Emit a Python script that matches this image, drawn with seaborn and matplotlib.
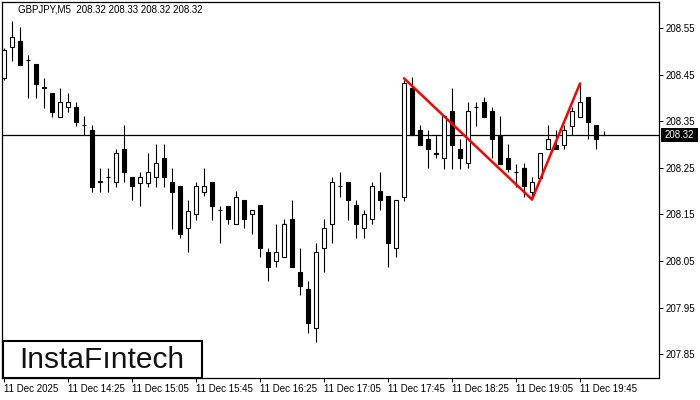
import matplotlib
matplotlib.use("Agg")
import matplotlib.pyplot as plt
from matplotlib.patches import Rectangle
import seaborn as sns
import numpy as np
import pandas as pd

# GBPJPY M5 candles
opens = [208.443, 208.510, 208.522, 208.482, 208.473, 208.423, 208.410, 208.360, 208.380, 208.380,
         208.342, 208.331, 208.221, 208.231, 208.219, 208.290, 208.230, 208.218, 208.218, 208.230,
         208.270, 208.219, 208.210, 208.120, 208.150, 208.199, 208.219, 208.160, 208.169, 208.129,
         208.180, 208.150, 208.170, 208.069, 208.049, 208.058, 208.140, 208.027, 207.989, 207.907,
         208.079, 208.129, 208.211, 208.219, 208.170, 208.120, 208.140, 208.200, 208.190, 208.079,
         208.188, 208.421, 208.331, 208.312, 208.281, 208.270, 208.372, 208.290, 208.260, 208.381,
         208.391, 208.372, 208.319, 208.270, 208.241, 208.249, 208.199, 208.229, 208.290, 208.299,
         208.300, 208.340, 208.360, 208.401, 208.342, 208.320]
highs = [208.507, 208.564, 208.552, 208.492, 208.473, 208.442, 208.410, 208.422, 208.410, 208.391,
         208.361, 208.342, 208.249, 208.249, 208.290, 208.342, 208.230, 208.240, 208.281, 208.301,
         208.301, 208.249, 208.210, 208.181, 208.219, 208.249, 208.219, 208.169, 208.169, 208.200,
         208.180, 208.159, 208.170, 208.079, 208.129, 208.140, 208.181, 208.079, 208.008, 208.088,
         208.140, 208.230, 208.240, 208.219, 208.181, 208.159, 208.220, 208.242, 208.190, 208.181,
         208.438, 208.444, 208.342, 208.331, 208.320, 208.361, 208.421, 208.312, 208.391, 208.391,
         208.401, 208.380, 208.361, 208.301, 208.258, 208.260, 208.230, 208.281, 208.342, 208.331,
         208.342, 208.381, 208.431, 208.401, 208.342, 208.330]
lows = [208.438, 208.480, 208.471, 208.400, 208.400, 208.379, 208.360, 208.360, 208.370, 208.340,
        208.320, 208.199, 208.199, 208.199, 208.209, 208.219, 208.180, 208.169, 208.209, 208.209,
        208.209, 208.119, 208.099, 208.069, 208.139, 208.190, 208.139, 208.088, 208.129, 208.129,
        208.120, 208.109, 208.058, 208.007, 208.038, 208.058, 208.038, 207.977, 207.896, 207.877,
        208.027, 208.088, 208.188, 208.139, 208.099, 208.099, 208.129, 208.159, 208.038, 208.058,
        208.179, 208.320, 208.300, 208.249, 208.270, 208.247, 208.247, 208.247, 208.249, 208.340,
        208.360, 208.270, 208.258, 208.240, 208.209, 208.188, 208.181, 208.229, 208.290, 208.290,
        208.290, 208.320, 208.360, 208.311, 208.290, 208.320]
closes = [208.503, 208.531, 208.471, 208.481, 208.430, 208.422, 208.370, 208.391, 208.391, 208.349,
          208.341, 208.209, 208.220, 208.230, 208.281, 208.240, 208.210, 208.230, 208.240, 208.260,
          208.230, 208.199, 208.109, 208.158, 208.210, 208.210, 208.169, 208.159, 208.140, 208.188,
          208.140, 208.159, 208.079, 208.038, 208.069, 208.129, 208.038, 207.997, 207.918, 208.069,
          208.120, 208.219, 208.210, 208.180, 208.129, 208.150, 208.210, 208.180, 208.088, 208.181,
          208.431, 208.320, 208.300, 208.290, 208.280, 208.361, 208.300, 208.270, 208.372, 208.380,
          208.360, 208.311, 208.258, 208.247, 208.240, 208.210, 208.219, 208.281, 208.311, 208.290,
          208.331, 208.372, 208.391, 208.349, 208.311, 208.320]

# double top pattern line (candle index, price)
pattern_idx = [50, 66, 72]
pattern_price = [208.442, 208.182, 208.431]

last_price = 208.32
price_ticks = [207.85, 207.95, 208.05, 208.15, 208.25, 208.35, 208.45, 208.55]
time_tick_idx = [0, 8, 16, 24, 32, 40, 48, 56, 64, 72]
time_labels = ["11 Dec 2025", "11 Dec 14:25", "11 Dec 15:05", "11 Dec 15:45", "11 Dec 16:25",
               "11 Dec 17:05", "11 Dec 17:45", "11 Dec 18:25", "11 Dec 19:05", "11 Dec 19:45"]


def main():
    sns.set_style("white")
    plt.rcParams['font.family'] = ['Liberation Sans', 'DejaVu Sans']

    df = pd.DataFrame({'open': opens, 'high': highs, 'low': lows, 'close': closes})
    df['idx'] = np.arange(len(df))
    df['bottom'] = df[['open', 'close']].min(axis=1)
    df['height'] = (df['close'] - df['open']).abs().clip(lower=0.0004)
    up = df['close'] >= df['open']

    fig = plt.figure(figsize=(7, 4), dpi=100)
    ax = fig.add_axes([2 / 700, 22 / 400, 657 / 700, 376 / 400])

    # wicks
    ax.vlines(df['idx'], df['low'], df['high'], color='black', lw=0.8, zorder=2)
    # bodies
    ax.bar(df.loc[up, 'idx'], df.loc[up, 'height'], bottom=df.loc[up, 'bottom'], width=0.6,
           color='white', edgecolor='black', linewidth=0.8, zorder=3)
    ax.bar(df.loc[~up, 'idx'], df.loc[~up, 'height'], bottom=df.loc[~up, 'bottom'], width=0.6,
           color='black', edgecolor='black', linewidth=0.8, zorder=3)

    ax.axhline(last_price, color='black', lw=0.9, zorder=1)

    sns.lineplot(x=pattern_idx, y=pattern_price, color='red', lw=1.8, ax=ax, sort=False,
                 zorder=4, legend=False)

    ax.set_xlim(-0.25, 81.875)
    ax.set_ylim(207.799, 208.6058)

    ax.yaxis.tick_right()
    ax.set_yticks(price_ticks)
    ax.set_yticklabels([f"{p:.2f}" for p in price_ticks])
    ax.set_xticks(time_tick_idx)
    ax.set_xticklabels(time_labels, ha='left')
    ax.tick_params(axis='both', direction='out', length=3, width=0.7, labelsize=7, pad=1.5,
                   color='black', labelcolor='black')
    ax.tick_params(axis='x', pad=1)
    ax.tick_params(left=False, bottom=True, right=True)
    ax.set_xlabel('')
    ax.set_ylabel('')
    for s in ax.spines.values():
        s.set_color('black')
        s.set_linewidth(0.9)

    # header text
    fig.text(18 / 700, 1 - 10 / 400, "GBPJPY,M5  208.32 208.33 208.32 208.32", fontsize=7,
             va='center', ha='left', color='black')

    # current price box
    fig.patches.append(Rectangle((661 / 700, 1 - 142 / 400), 37 / 700, 14 / 400,
                                 transform=fig.transFigure, facecolor='black', edgecolor='none'))
    fig.text(679.5 / 700, 1 - 135 / 400, f"{last_price:.2f}", fontsize=7, color='white',
             ha='center', va='center')

    # logo box
    fig.patches.append(Rectangle((2.5 / 700, 22 / 400), 199 / 700, 37.5 / 400,
                                 transform=fig.transFigure, facecolor='white', edgecolor='black',
                                 linewidth=1.5, zorder=5))
    fig.text(102 / 700, 1 - 360 / 400, "InstaFıntech", fontsize=21.5, color='#111111',
             ha='center', va='center', zorder=6)

    fig.savefig("out.png", dpi=100)


if __name__ == '__main__':
    main()
